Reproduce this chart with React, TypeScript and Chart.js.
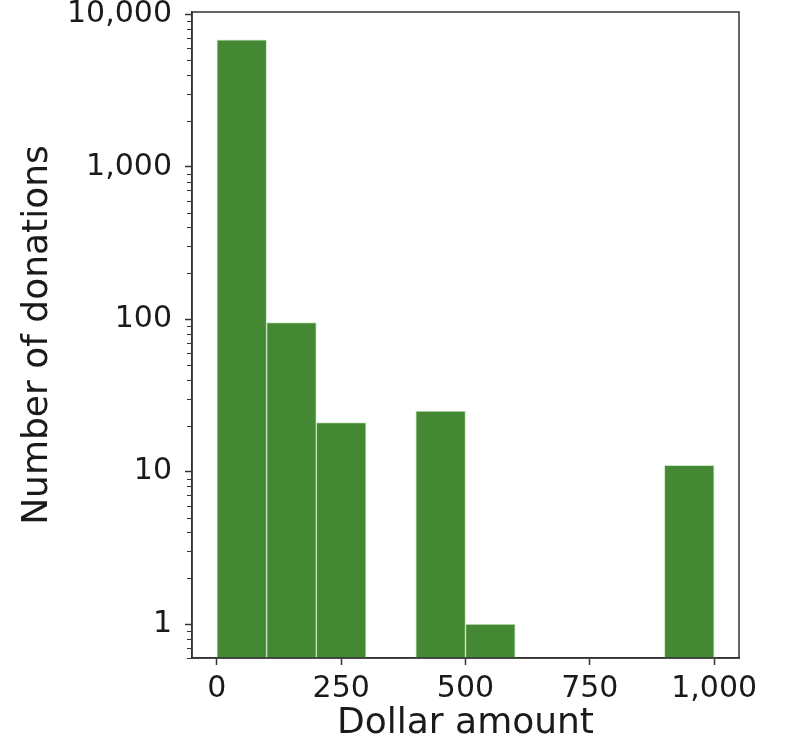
import React, { useEffect, useRef } from 'react';
import { Chart, registerables } from 'chart.js';

Chart.register(...registerables);

// Histogram bins (dollar ranges) and their donation counts
const binStarts = [0, 100, 200, 400, 500, 900];
const binEnds = [100, 200, 300, 500, 600, 1000];
const binCounts = [6800, 95, 21, 25, 1, 11];

const xTickValues = [0, 250, 500, 750, 1000];
const yMajorTicks = [1, 10, 100, 1000, 10000];

const xLabel = 'Dollar amount';
const yLabel = 'Number of donations';

const FONT = "'DejaVu Sans', sans-serif";
const TEXT = '#1a1a1a';
const AXIS = '#333333';
const BAR = '#458833';

const framePlugin = {
  id: 'frame',
  afterDraw(chart: any) {
    const { ctx, chartArea } = chart;
    const { left, top, right, bottom } = chartArea;
    ctx.save();
    ctx.strokeStyle = AXIS;
    ctx.lineWidth = 1.5;
    ctx.strokeRect(left, top, right - left, bottom - top);
    ctx.restore();
  },
};

// minor log ticks (2..9 × 10^k) drawn shorter than the major ones, from the y scale
const minorTickPlugin = {
  id: 'minorTicks',
  afterDraw(chart: any) {
    const { ctx, chartArea } = chart;
    const ys = chart.scales.y;
    ctx.save();
    ctx.strokeStyle = AXIS;
    ctx.lineWidth = 1;
    for (let d = -1; d <= 4; d++) {
      for (let m = 2; m <= 9; m++) {
        const v = m * Math.pow(10, d);
        if (v < ys.min || v > ys.max) continue;
        const py = Math.round(ys.getPixelForValue(v)) + 0.5;
        ctx.beginPath();
        ctx.moveTo(chartArea.left - 5, py);
        ctx.lineTo(chartArea.left, py);
        ctx.stroke();
      }
    }
    ctx.restore();
  },
};

const fmt = (v: number) => v.toLocaleString('en-US');

export default function App() {
  const ref = useRef<HTMLCanvasElement | null>(null);

  useEffect(() => {
    if (!ref.current) return;
    const data = binStarts.map((s, i) => ({ x: (s + binEnds[i]) / 2, y: binCounts[i] }));
    const chart = new Chart(ref.current, {
      type: 'bar',
      data: {
        datasets: [
          {
            data,
            backgroundColor: BAR,
            borderColor: 'rgba(190, 225, 180, 0.8)',
            borderWidth: 1,
            barPercentage: 1,
            categoryPercentage: 1,
          } as any,
        ],
      },
      plugins: [framePlugin, minorTickPlugin],
      options: {
        responsive: false,
        animation: false,
        layout: { padding: { top: 12, right: 67, bottom: 0, left: 0 } },
        plugins: { legend: { display: false }, tooltip: { enabled: false }, title: { display: false } },
        scales: {
          x: {
            type: 'linear',
            offset: false,
            min: -50,
            max: 1050,
            afterBuildTicks: (scale: any) => {
              scale.ticks = xTickValues.map((v) => ({ value: v }));
            },
            afterFit: (scale: any) => {
              scale.height = 94;
              scale.paddingLeft = 0;
              scale.paddingRight = 0;
            },
            grid: { offset: false, drawOnChartArea: false, drawTicks: true, tickLength: 7, tickColor: AXIS, tickWidth: 1.5 },
            border: { display: true, color: AXIS, width: 1.5 },
            ticks: {
              color: TEXT,
              font: { family: FONT, size: 30 },
              padding: 6,
              maxRotation: 0,
              autoSkip: false,
              callback: (v: any) => fmt(Number(v)),
            },
            title: {
              display: true,
              text: xLabel,
              color: TEXT,
              font: { family: FONT, size: 36, lineHeight: 1.2 },
              padding: { top: 0, bottom: 7 },
            },
          },
          y: {
            type: 'logarithmic',
            min: 0.645,
            max: 10350,
            afterBuildTicks: (scale: any) => {
              scale.ticks = yMajorTicks.map((v) => ({ value: v, major: true }));
            },
            afterFit: (scale: any) => {
              scale.width = 192;
              scale.paddingTop = 0;
              scale.paddingBottom = 0;
            },
            grid: {
              drawOnChartArea: false,
              drawTicks: true,
              tickLength: 7,
              tickColor: AXIS,
              tickWidth: 1.5,
            },
            border: { display: true, color: AXIS, width: 1.5 },
            ticks: {
              color: TEXT,
              font: { family: FONT, size: 30 },
              padding: 13,
              autoSkip: false,
              callback: (v: any) => fmt(Number(v)),
            },
            title: {
              display: true,
              text: yLabel,
              color: TEXT,
              font: { family: FONT, size: 36, lineHeight: 1.2 },
              padding: { top: 16, bottom: 0 },
            },
          },
        },
      },
    } as any);
    return () => chart.destroy();
  }, []);

  return (
    <div style={{ position: 'absolute', left: 0, top: 0, width: 806, height: 752, background: '#fff' }}>
      <canvas ref={ref} width={806} height={752} style={{ display: 'block' }} />
    </div>
  );
}
